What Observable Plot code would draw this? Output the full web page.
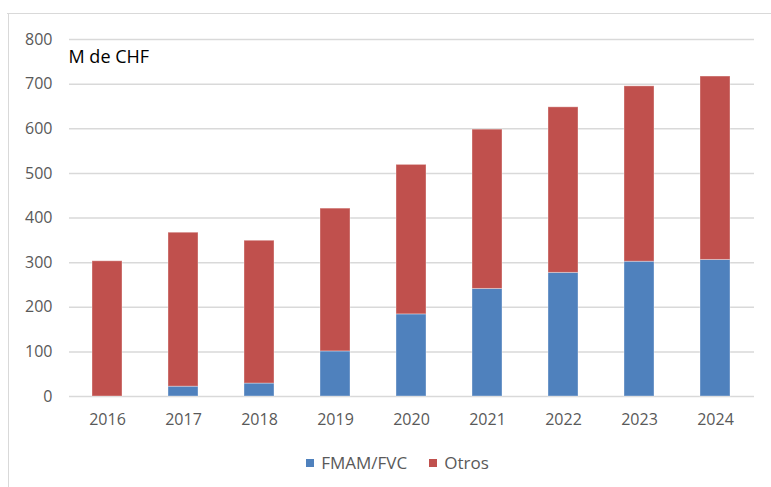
<!DOCTYPE html>
<html>
<head>
<meta charset="utf-8">
<script src="https://cdn.jsdelivr.net/npm/d3@7"></script>
<script src="https://cdn.jsdelivr.net/npm/@observablehq/plot@0.6"></script>
<style>
  html, body { margin: 0; padding: 0; background: #fff; }
  #wrap { position: relative; width: 771px; height: 487px; overflow: hidden; font-family: "Open Sans", sans-serif; }
  #chart { position: absolute; left: 0; top: 0; }
  .frame-top { position: absolute; left: 7px; right: 0; top: 13px; height: 0; border-top: 1.5px solid #d9d9d9; }
  .frame-left { position: absolute; left: 8px; top: 13px; bottom: 0; width: 0; border-left: 1.5px solid #d9d9d9; }
  #legend { position: absolute; left: 0; width: 771px; top: 451px; display: flex; justify-content: center; gap: 22px; font-size: 17px; color: #595959; padding-left: 24px; box-sizing: border-box; }
  #legend .item { display: flex; align-items: center; gap: 7px; }
  #legend .sw { width: 8px; height: 8px; display: inline-block; }
</style>
</head>
<body>
<div id="wrap">
  <div class="frame-top"></div>
  <div class="frame-left"></div>
  <div id="chart"></div>
  <div id="legend"></div>
</div>
<script>
// ---- data ----
const years = ["2016", "2017", "2018", "2019", "2020", "2021", "2022", "2023", "2024"];
const fmam = [0, 22, 29, 101, 184, 241, 277, 302, 306];
const otros = [303, 345, 320, 320, 335, 357, 371, 393, 411];
const seriesNames = ["FMAM/FVC", "Otros"];
const seriesColors = ["#4f81bd", "#c0504d"];
const yTicks = [0, 100, 200, 300, 400, 500, 600, 700, 800];
const unitLabel = "M de CHF";

const data = years.flatMap((y, i) => [
  {year: y, series: seriesNames[0], value: fmam[i]},
  {year: y, series: seriesNames[1], value: otros[i]}
]);

const chart = Plot.plot({
  width: 771,
  height: 440,
  marginTop: 39,
  marginBottom: 44,
  marginLeft: 69,
  marginRight: 17,
  style: {fontFamily: "'Open Sans', sans-serif", fontSize: "16px", color: "#595959", background: "transparent"},
  x: {domain: years, paddingInner: 0.6, paddingOuter: 0.3, label: null},
  y: {domain: [0, 800], label: null},
  color: {domain: seriesNames, range: seriesColors},
  marks: [
    Plot.gridY(yTicks, {stroke: "#d9d9d9", strokeOpacity: 1, strokeWidth: 1.5}),
    Plot.axisY(yTicks, {tickSize: 0, tickPadding: 17, label: null, fill: "#595959"}),
    Plot.axisX({tickSize: 0, tickPadding: 17, label: null, fill: "#595959"}),
    Plot.barY(data, {x: "year", y: "value", fill: "series", order: seriesNames, stroke: "#ffffff", strokeOpacity: 0.35, strokeWidth: 1}),
    Plot.text([unitLabel], {frameAnchor: "top-left", text: d => d, textAnchor: "start", lineAnchor: "middle", dx: -1, dy: 18, fill: "#000", fontSize: 18})
  ]
});
document.getElementById("chart").appendChild(chart);

const legend = document.getElementById("legend");
seriesNames.forEach((s, i) => {
  const item = document.createElement("div");
  item.className = "item";
  const sw = document.createElement("span");
  sw.className = "sw";
  sw.style.background = seriesColors[i];
  const t = document.createElement("span");
  t.textContent = s;
  item.appendChild(sw);
  item.appendChild(t);
  legend.appendChild(item);
});
</script>
</body>
</html>
